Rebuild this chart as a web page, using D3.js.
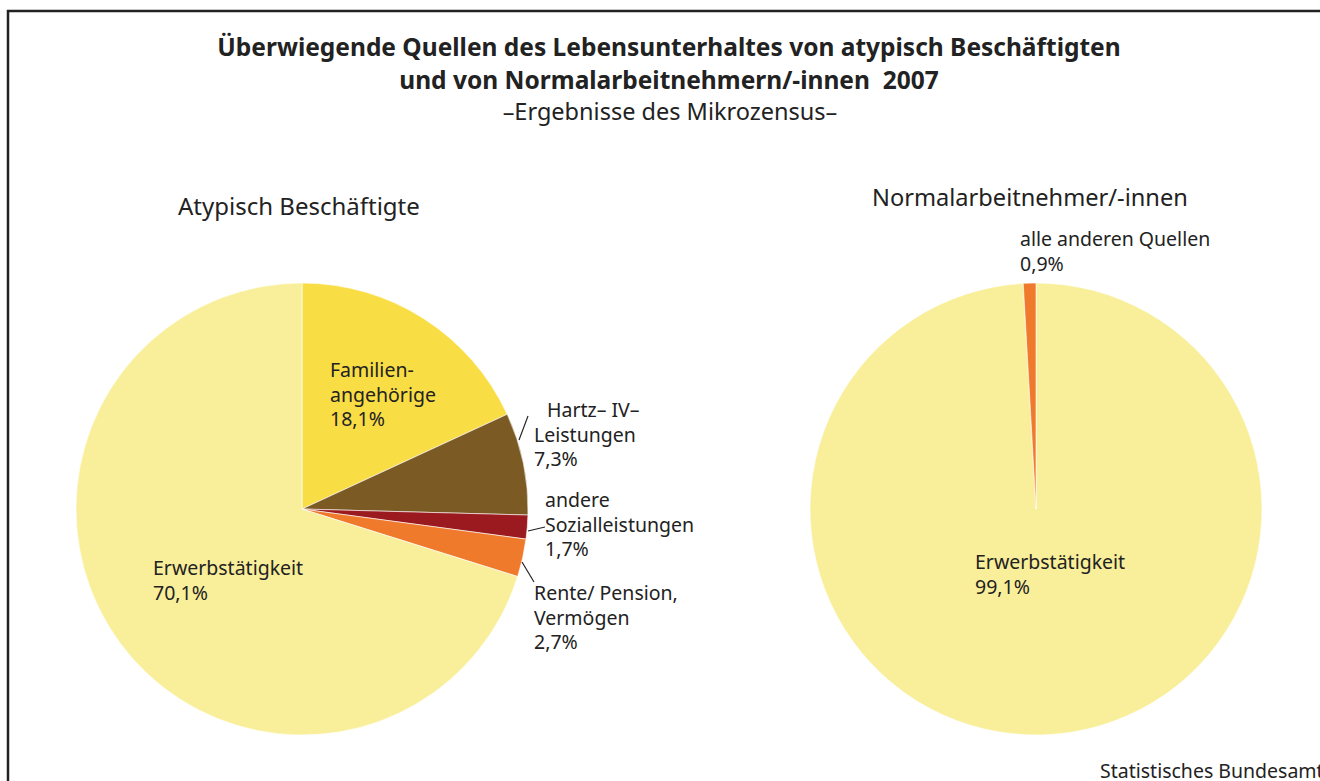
<!DOCTYPE html>
<html lang="de">
<head>
  <meta charset="UTF-8">
  <title>Quellen des Lebensunterhaltes 2007</title>
  <script src="https://d3js.org/d3.v7.min.js"></script>
  <style>
    * { margin: 0; padding: 0; box-sizing: border-box; }
    body { background: #fff; font-family: "Noto Sans", "Open Sans", sans-serif; overflow: hidden; }
    svg text { fill: #222; }
  </style>
</head>
<body>
  <div id="chart"></div>
  <script>
    // Atypisch Beschäftigte
    const atypKategorien = ["Familienangehörige", "Hartz IV", "andere Sozialleistungen", "Rente/Pension", "Erwerbstätigkeit"];
    const atypWerte = [18.1, 7.3, 1.7, 2.7, 70.1];
    const atypFarben = ["#f9dd45", "#7b5a24", "#9a1a1f", "#f07a2c", "#f9ef9a"];

    // Normalarbeitnehmer/-innen
    const normKategorien = ["Erwerbstätigkeit", "alle anderen Quellen"];
    const normWerte = [99.1, 0.9];
    const normFarben = ["#f9ef9a", "#f07a2c"];

    const W = 1320, H = 781;
    const svg = d3.select("#chart").append("svg")
      .attr("width", W).attr("height", H);

    // Rahmen
    svg.append("path")
      .attr("d", "M8,781 V11 H1320")
      .attr("fill", "none")
      .attr("stroke", "#222")
      .attr("stroke-width", 2.5);

    // Titel
    const titel = svg.append("g").attr("text-anchor", "middle");
    titel.append("text").attr("x", 669).attr("y", 56)
      .style("font-size", "24.5px").style("font-weight", "bold")
      .text("Überwiegende Quellen des Lebensunterhaltes von atypisch Beschäftigten");
    titel.append("text").attr("x", 669).attr("y", 89)
      .style("font-size", "24.5px").style("font-weight", "bold")
      .style("white-space", "pre")
      .text("und von Normalarbeitnehmern/-innen  2007");
    titel.append("text").attr("x", 670).attr("y", 120)
      .style("font-size", "23.5px")
      .text("–Ergebnisse des Mikrozensus–");

    const radius = 226;
    const pie = d3.pie().sort(null).value(d => d.wert);
    const arc = d3.arc().innerRadius(0).outerRadius(radius);

    function zeichnePie(cx, cy, kategorien, werte, farben) {
      const daten = kategorien.map((k, i) => ({ name: k, wert: werte[i], farbe: farben[i] }));
      const g = svg.append("g").attr("transform", `translate(${cx},${cy})`);
      g.selectAll("path")
        .data(pie(daten))
        .enter().append("path")
        .attr("d", arc)
        .attr("fill", d => d.data.farbe)
        .attr("stroke", "#fff")
        .attr("stroke-width", 0.6);
      return g;
    }

    zeichnePie(302, 509, atypKategorien, atypWerte, atypFarben);
    zeichnePie(1036, 509, normKategorien, normWerte, normFarben);

    function label(x, y, zeilen) {
      const t = svg.append("text").attr("x", x).attr("y", y)
        .style("font-size", "19.5px");
      zeilen.forEach((z, i) => {
        t.append("tspan")
          .attr("x", Array.isArray(z) ? z[0] : x)
          .attr("dy", i === 0 ? 0 : 24.5)
          .text(Array.isArray(z) ? z[1] : z);
      });
    }

    // Untertitel
    svg.append("text").attr("x", 178).attr("y", 215)
      .style("font-size", "24px").text("Atypisch Beschäftigte");
    svg.append("text").attr("x", 872).attr("y", 206)
      .style("font-size", "23.6px").text("Normalarbeitnehmer/-innen");

    // Beschriftungen links
    label(330, 377, ["Familien-", "angehörige", "18,1%"]);
    label(534, 417, [[547, "Hartz– IV–"], "Leistungen", "7,3%"]);
    label(545, 507, ["andere", "Sozialleistungen", "1,7%"]);
    label(534, 600, ["Rente/ Pension,", "Vermögen", "2,7%"]);
    label(153, 575, ["Erwerbstätigkeit", "70,1%"]);

    // Beschriftungen rechts
    label(975, 569, ["Erwerbstätigkeit", "99,1%"]);
    label(1020, 246, ["alle anderen Quellen", "0,9%"]);

    // Verbindungslinien
    const linien = [
      [[519, 440], [528, 416]],
      [[528, 531], [545, 527]],
      [[522, 562], [534, 582]]
    ];
    svg.selectAll(".leader")
      .data(linien)
      .enter().append("line")
      .attr("class", "leader")
      .attr("x1", d => d[0][0]).attr("y1", d => d[0][1])
      .attr("x2", d => d[1][0]).attr("y2", d => d[1][1])
      .attr("stroke", "#222").attr("stroke-width", 1.2);

    // Quelle
    svg.append("text").attr("x", 1100).attr("y", 778)
      .style("font-size", "19.5px").text("Statistisches Bundesamt");
  </script>
</body>
</html>
